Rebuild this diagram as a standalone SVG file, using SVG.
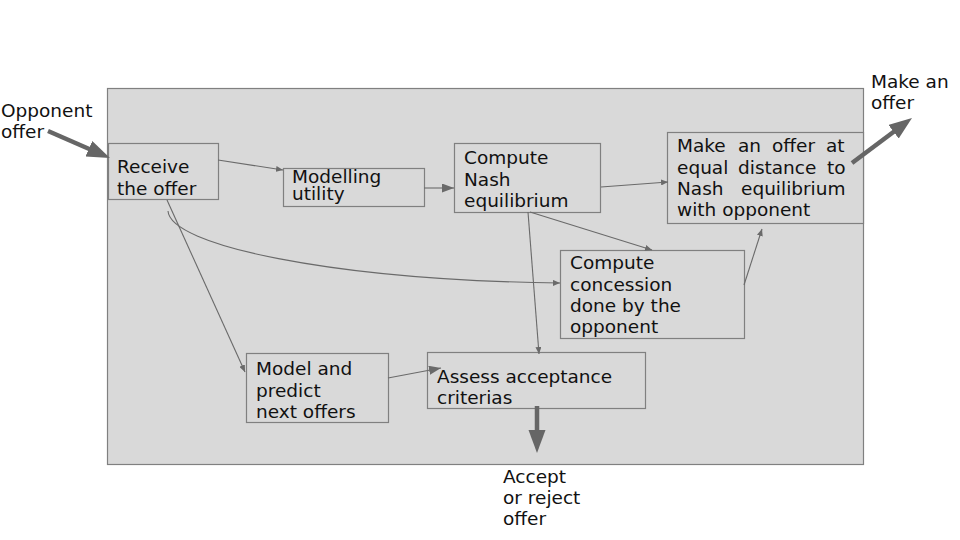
<svg xmlns="http://www.w3.org/2000/svg" width="960" height="540" viewBox="0 0 960 540">
<defs>
<style>
.box{fill:#d9d9d9;stroke:#808080;stroke-width:1.2}
.t{font-family:"DejaVu Sans",sans-serif;font-size:18.5px;fill:#111}
.c{fill:none;stroke:#6a6a6a;stroke-width:1.1}
.k{fill:none;stroke:#666;stroke-width:4.5}
</style>
<marker id="s" markerUnits="userSpaceOnUse" markerWidth="8" markerHeight="6" refX="7" refY="3" orient="auto"><path d="M0,0 L7,3 L0,6 z" fill="#6a6a6a"/></marker>
<marker id="m" markerUnits="userSpaceOnUse" markerWidth="13" markerHeight="10" refX="12" refY="4.5" orient="auto"><path d="M0,0 L12,4.5 L0,9 z" fill="#6a6a6a"/></marker>
<marker id="b" markerUnits="userSpaceOnUse" markerWidth="24" markerHeight="18" refX="1" refY="8.5" orient="auto"><path d="M0,0 L23,8.5 L0,17 z" fill="#666"/></marker>
</defs>
<rect width="960" height="540" fill="#fff"/>
<g id="frame"><rect class="box" x="107.5" y="88.5" width="756" height="376"/></g>
<g id="n-receive"><rect class="box" x="108.5" y="143.5" width="110" height="56"/><text class="t" x="117" y="173">Receive</text><text class="t" x="117" y="195">the offer</text></g>
<g id="n-modelling"><rect class="box" x="283.5" y="168.5" width="141" height="38"/><text class="t" x="292" y="183">Modelling</text><text class="t" x="292" y="200">utility</text></g>
<g id="n-nash"><rect class="box" x="454.5" y="143.5" width="146" height="69"/><text class="t" x="464" y="164">Compute</text><text class="t" x="464" y="186">Nash</text><text class="t" x="464" y="207">equilibrium</text></g>
<g id="n-makeoffer"><rect class="box" x="667.5" y="132.5" width="196" height="91"/>
<text class="t" y="152"><tspan x="677">Make</tspan><tspan x="738">an</tspan><tspan x="772">offer</tspan><tspan x="826">at</tspan></text>
<text class="t" y="174"><tspan x="677">equal</tspan><tspan x="738">distance</tspan><tspan x="827">to</tspan></text>
<text class="t" y="195"><tspan x="677">Nash</tspan><tspan x="741">equilibrium</tspan></text>
<text class="t" x="677" y="216">with opponent</text></g>
<g id="n-concession"><rect class="box" x="560.5" y="250.5" width="184" height="88"/><text class="t" x="570" y="269">Compute</text><text class="t" x="570" y="291">concession</text><text class="t" x="570" y="312">done by the</text><text class="t" x="570" y="333">opponent</text></g>
<g id="n-predict"><rect class="box" x="246.5" y="353.5" width="142" height="69"/><text class="t" x="256" y="375">Model and</text><text class="t" x="256" y="397">predict</text><text class="t" x="256" y="418">next offers</text></g>
<g id="n-assess"><rect class="box" x="427.5" y="352.5" width="218" height="56"/><text class="t" x="437" y="383">Assess acceptance</text><text class="t" x="437" y="404">criterias</text></g>
<g id="labels">
<text class="t" x="1" y="117">Opponent</text><text class="t" x="1" y="138">offer</text>
<text class="t" x="871" y="88">Make an</text><text class="t" x="871" y="109">offer</text>
<text class="t" x="503" y="483">Accept</text><text class="t" x="503" y="504">or reject</text><text class="t" x="503" y="525">offer</text>
</g>
<g id="connectors">
<line class="k" x1="48" y1="131" x2="89.8" y2="149.2" marker-end="url(#b)"/>
<line class="k" x1="852" y1="163" x2="894.4" y2="131.2" marker-end="url(#b)"/>
<line class="k" x1="537" y1="406" x2="537" y2="431" marker-end="url(#b)"/>
<line class="c" x1="218" y1="160" x2="283" y2="170" marker-end="url(#s)"/>
<line class="c" x1="424" y1="188" x2="454" y2="188" marker-end="url(#m)"/>
<line class="c" x1="601" y1="187" x2="668" y2="182" marker-end="url(#s)"/>
<line class="c" x1="530" y1="212" x2="652" y2="250" marker-end="url(#s)"/>
<line class="c" x1="528" y1="212" x2="539" y2="354" marker-end="url(#s)"/>
<line class="c" x1="167" y1="200" x2="245" y2="372" marker-end="url(#s)"/>
<path class="c" d="M168,211 C170,245 330,280 560,283" marker-end="url(#s)"/>
<line class="c" x1="744" y1="285" x2="762" y2="229" marker-end="url(#s)"/>
<line class="c" x1="388" y1="378" x2="441" y2="368" marker-end="url(#m)"/>
</g>
</svg>
